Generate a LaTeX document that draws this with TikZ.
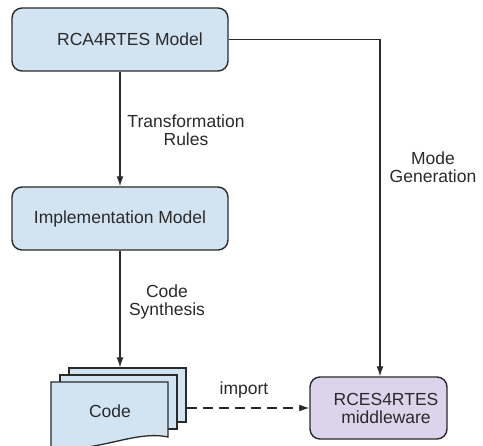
\documentclass[tikz,border=0pt]{standalone}
\usepackage{fontspec}
\setmainfont{Liberation Sans}
\usepackage{xcolor}
\usetikzlibrary{positioning}
\usetikzlibrary{arrows.meta}

\definecolor{azulcaja}{HTML}{D2E3F1}
\definecolor{lilacaja}{HTML}{DCD4EA}
\definecolor{borde}{HTML}{2A2A2A}

\tikzset{
  caja/.style={draw=borde, line width=1.4bp, rounded corners=10bp, align=center},
  hoja/.style={draw=borde, line width=1.3bp, fill=azulcaja},
  flecha/.style={draw=borde, line width=1.3bp, -{Latex[length=10bp,width=7bp]}},
  etiqueta/.style={align=center, inner sep=0pt}
}

\begin{document}
\begin{tikzpicture}[x=1bp, y=1bp, font=\fontsize{17.5bp}{18bp}\selectfont, text=borde]
  \useasboundingbox (0,0) rectangle (483,-446);

  % Cajas de los modelos
  \node[caja, fill=azulcaja, minimum width=216bp, minimum height=63bp] (rca) at (120,-39.5) {\hspace*{20bp}RCA4RTES Model};
  \node[caja, fill=azulcaja, minimum width=216bp, minimum height=63bp] (impl) at (120,-218.5) {Implementation Model};
  \node[caja, fill=lilacaja, minimum width=137bp, minimum height=62bp] (mw) at (378.5,-408) {\hspace*{15bp}RCES4RTES\\\hspace*{15bp}middleware};
  \coordinate (mwtop) at ([xshift=1.5bp]mw.north);

  % Hojas del codigo (de atras hacia adelante)
  \node[hoja, minimum width=117bp, minimum height=54bp, inner sep=0pt] (back) at (127.5,-395) {};
  \node[hoja, minimum width=117bp, minimum height=54bp, inner sep=0pt] (mid) at (118.5,-402) {};
  \draw[hoja] (51,-382) -- (168,-382) -- (168,-437)
    .. controls (135,-430) and (100,-452) .. (51,-449) -- cycle;
  \node (code) at (110,-411) {Code};

  % Etiquetas
  \node[etiqueta] (trans) at (186,-130) {Transformation\\Rules};
  \node[etiqueta] (synth) at (167,-302) {Code\\Synthesis};
  \node[etiqueta] (modegen) at (433,-167) {Mode\\Generation};
  \node[etiqueta] (imp) at (244,-390) {import};

  % Conexiones
  \draw[flecha] (rca) -- (impl);
  \draw[flecha] (impl) -- (impl |- back.north);
  \draw[flecha] (rca) -- (rca -| mwtop) -- (mwtop);
  \draw[flecha, dash pattern=on 10bp off 6bp] (mw -| back.east) -- (mw);
\end{tikzpicture}
\end{document}
